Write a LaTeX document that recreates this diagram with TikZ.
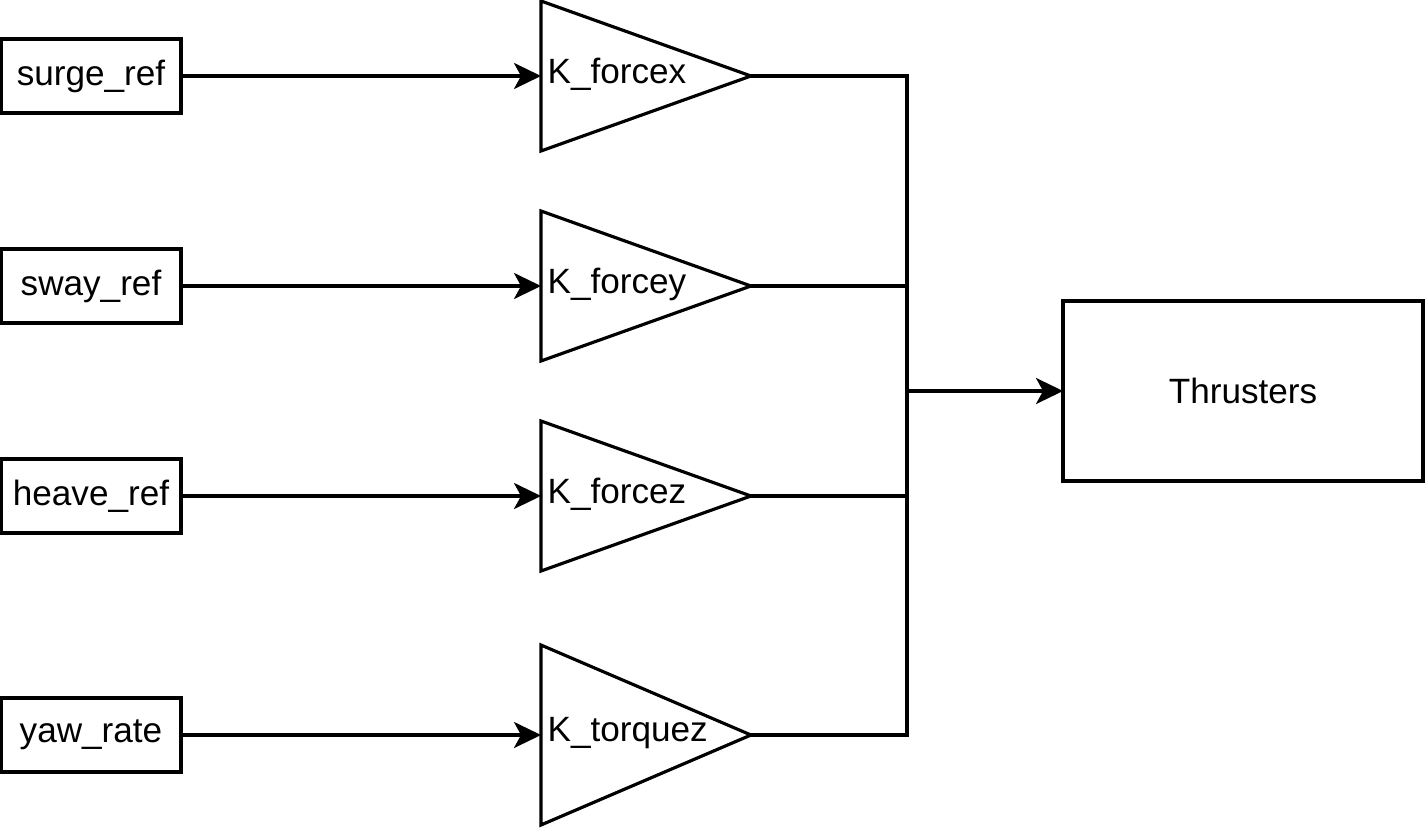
\documentclass[tikz,border=0pt]{standalone}
\usepackage{fontspec}
\setmainfont{Liberation Sans}
\usepackage{tikz}
\usetikzlibrary{arrows.meta, positioning, shapes.geometric}

\begin{document}
\begin{tikzpicture}[
        x=0.02cm, y=-0.02cm,
        line width=1.8pt,
        font=\fontsize{20}{24}\selectfont,
        refbox/.style={rectangle, draw, minimum width=3.6cm, minimum height=1.48cm, inner sep=0pt, outer sep=0pt},
        gain/.style={isosceles triangle, isosceles triangle stretches, draw, anchor=west, minimum height=4.2cm, minimum width=#1, inner sep=0pt, outer sep=0pt},
        gaintext/.style={anchor=west, inner sep=0pt},
        arrow/.style={-{Stealth[length=0.54cm, width=0.52cm, inset=0.14cm]}}
    ]
        \useasboundingbox (0,0) rectangle (1425,828);

        % inputs
        \node[refbox] (surge) at (91,76) {surge\_ref};
        \node[refbox] (sway) at (91,286) {sway\_ref};
        \node[refbox] (heave) at (91,496) {heave\_ref};
        \node[refbox] (yaw) at (91,735) {yaw\_rate};

        % gains
        \node[gain=3cm] (kx) at (541,76) {};
        \node[gain=3cm] (ky) at (541,286) {};
        \node[gain=3cm] (kz) at (541,496) {};
        \node[gain=3.6cm] (kt) at (541,735) {};
        \node[gaintext] (kxt) at (546,74) {K\_forcex};
        \node[gaintext] (kyt) at (546,284) {K\_forcey};
        \node[gaintext] (kzt) at (546,494) {K\_forcez};
        \node[gaintext] (ktt) at (546,733) {K\_torquez};

        % thrusters
        \node[rectangle, draw, minimum width=7.2cm, minimum height=3.6cm, inner sep=0pt, outer sep=0pt] (thr) at (1243,391) {Thrusters};

        \draw[arrow] (surge.east) -- (kx.west);
        \draw[arrow] (sway.east) -- (ky.west);
        \draw[arrow] (heave.east) -- (kz.west);
        \draw[arrow] (yaw.east) -- (kt.west);

        % bus
        \coordinate (bus) at (907,391);
        \draw (kx.apex) -| (bus);
        \draw (kt.apex) -| (bus);
        \draw (ky.apex) -- (ky.apex -| bus);
        \draw (kz.apex) -- (kz.apex -| bus);
        \draw[arrow] (bus) -- (thr.west);
    \end{tikzpicture}
\end{document}
